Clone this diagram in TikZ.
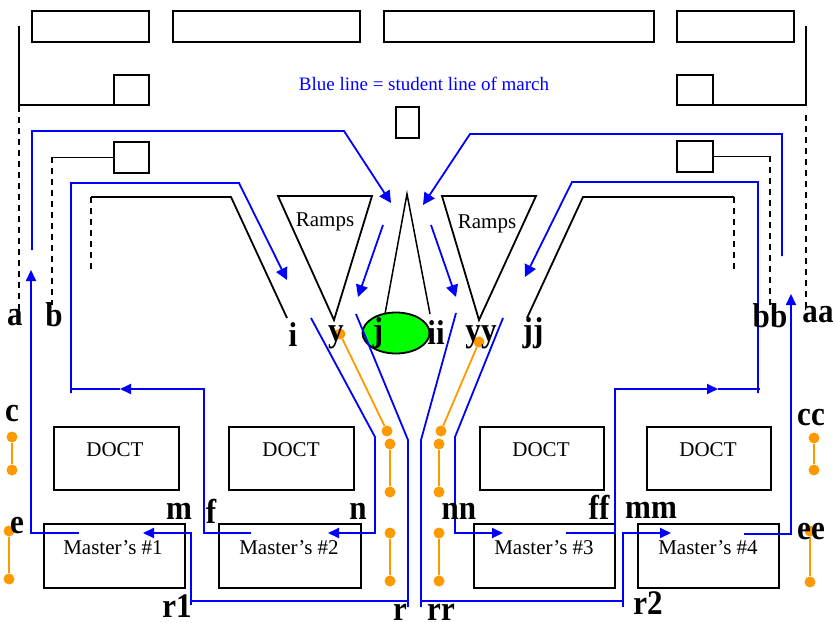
\documentclass[tikz,border=0pt]{standalone}
\usepackage{fontspec}
\setmainfont{Liberation Serif}
\newfontfamily\tagface[FakeStretch=0.9]{Liberation Serif}
\usetikzlibrary{arrows.meta,shapes.geometric}
\definecolor{mpblue}{HTML}{0000FF}
\definecolor{mporange}{HTML}{FF9900}
\definecolor{mpgreen}{HTML}{00FF00}
\tikzset{
  wall/.style={draw=black,line width=1.8pt},
  walldash/.style={draw=black,line width=1.6pt,dash pattern=on 6pt off 5pt},
  room/.style={draw=black,fill=white,line width=1.9pt,inner sep=0pt,anchor=north west},
  march/.style={draw=mpblue,line width=1.8pt},
  marcharrow/.style={march,-{Triangle[length=11pt,width=10pt]}},
  marchdiag/.style={march,-{Triangle[length=12pt,width=12pt]}},
  stop/.style={circle,fill=mporange,inner sep=0pt,minimum size=11pt},
  stopline/.style={draw=mporange,line width=1.8pt},
  tag/.style={font=\fontsize{34.5}{35}\tagface\bfseries,text=black,inner sep=0pt},
  caption/.style={font=\fontsize{21}{22}\selectfont,text=black,inner sep=0pt},
}
\begin{document}
\begin{tikzpicture}[x=1pt,y=-1pt]
  \useasboundingbox (0,0) rectangle (836,623);
  \node[room,minimum width=117pt,minimum height=31pt] (door1) at (31,10) {};
  \node[room,minimum width=187pt,minimum height=31pt] (door2) at (172,10) {};
  \node[room,minimum width=270pt,minimum height=31pt] (door3) at (383,10) {};
  \node[room,minimum width=117pt,minimum height=31pt] (door4) at (676,10) {};
  \draw[wall] (19,26)--(19,105)--(113,105);
  \draw[wall] (806,26)--(806,105)--(713,105);
  \node[room,minimum width=35pt,minimum height=30pt] (box1) at (113,74) {};
  \node[room,minimum width=36pt,minimum height=30pt] (box2) at (676,74) {};
  \node[room,minimum width=23pt,minimum height=31pt] (podium) at (395,106) {};
  \node[room,minimum width=35pt,minimum height=31pt] (box3) at (113,141) {};
  \node[room,minimum width=36pt,minimum height=31pt] (box4) at (676,140) {};
  \coordinate (dash3) at (52,157);
  \coordinate (dash4) at (770,156);
  \draw[walldash] (19,106)--(19,310);
  \draw[walldash] (806,115)--(806,310);
  \draw[wall] (box3.west)--(box3.west-|dash3);
  \draw[walldash] (dash3)--(52,305);
  \draw[wall] (box4.east)--(box4.east-|dash4);
  \draw[walldash] (dash4)--(770,305);
  \draw[walldash] (91,197)--(91,270);
  \draw[wall] (91,197)--(231,197)--(287,318);
  \draw[walldash] (734,197)--(734,270);
  \draw[wall] (734,197)--(583,197)--(527,318);
  \draw[wall] (278,196)--(372,196)--(334,320)--cycle;
  \draw[wall] (442,196)--(536,196)--(479,320)--cycle;
  \draw[wall,line width=1.5pt] (385,314)--(407,194)--(430,314);
  \node[draw=black,fill=mpgreen,line width=1.8pt,ellipse,minimum width=67pt,minimum height=41pt,inner sep=0pt] (stage) at (396,333) {};
  \node[caption] (ramp1) at (325,222) {Ramps};
  \node[caption] (ramp2) at (487,224) {Ramps};
  \node[room,minimum width=125pt,minimum height=63pt] (doct1) at (53,426) {};
  \node[room,minimum width=125pt,minimum height=63pt] (doct2) at (228,426) {};
  \node[room,minimum width=124pt,minimum height=63pt] (doct3) at (479,426) {};
  \node[room,minimum width=124pt,minimum height=63pt] (doct4) at (646,426) {};
  \node[room,minimum width=141pt,minimum height=64pt] (mast1) at (43,523) {};
  \node[room,minimum width=142pt,minimum height=64pt] (mast2) at (218,523) {};
  \node[room,minimum width=141pt,minimum height=64pt] (mast3) at (473,523) {};
  \node[room,minimum width=141pt,minimum height=64pt] (mast4) at (637,523) {};
  \node[caption] at (115,450) {DOCT};
  \node[caption] at (291,450) {DOCT};
  \node[caption] at (541,450) {DOCT};
  \node[caption] at (708,450) {DOCT};
  \node[caption] at (113,548) {Master’s \#1};
  \node[caption] at (289,548) {Master’s \#2};
  \node[caption] at (544,548) {Master’s \#3};
  \node[caption] at (708,548) {Master’s \#4};
  \node[caption,font=\fontsize{19}{20}\selectfont,text=mpblue] (legend) at (424,84) {Blue line = student line of march};
  \draw[marchdiag] (32,250)--(32,131)--(344,131)--(391,203);
  \draw[marchdiag] (71,393)--(71,183)--(239,183)--(287,280);
  \draw[marchdiag] (383,225)--(358,297);
  \draw[marchdiag] (431,225)--(456,297);
  \draw[marchdiag] (782,256)--(782,134)--(470,134)--(423,205);
  \draw[marchdiag] (758,393)--(758,182)--(572,182)--(525,277);
  \draw[marcharrow] (79,533)--(31,533)--(31,270);
  \draw[marcharrow] (744,534)--(791,534)--(791,294);
  \draw[marcharrow] (251,533)--(204,533)--(204,389)--(120,389);
  \draw[march] (120,389)--(71,389);
  \draw[marcharrow] (311,318)--(375,437)--(375,533)--(328,533);
  \draw[marcharrow] (191,605)--(191,533)--(143,533);
  \draw[march] (191,601)--(408,601);
  \draw[march] (356,314)--(408,440)--(408,607);
  \draw[march] (456,313)--(421,440)--(421,607);
  \draw[march] (421,601)--(623,601);
  \draw[marcharrow] (623,607)--(623,533)--(671,533);
  \draw[marcharrow] (503,318)--(455,437)--(455,533)--(503,533);
  \draw[marcharrow] (566,533)--(615,533)--(615,389)--(718,389);
  \draw[march] (718,389)--(760,389);
  \node[stop] (ys1) at (340,334) {};
  \node[stop] (ys2) at (387,431) {};
  \draw[stopline] (ys1)--(ys2);
  \node[stop] (yy1) at (479,342) {};
  \node[stop] (yy2) at (441,431) {};
  \draw[stopline] (yy1)--(yy2);
  \node[stop] (c1) at (12,437) {};
  \node[stop] (c2) at (12,470) {};
  \draw[stopline] (c1)--(c2);
  \node[stop] (e1) at (9,531) {};
  \node[stop] (e2) at (9,579) {};
  \draw[stopline] (e1)--(e2);
  \node[stop] (n1) at (390,444) {};
  \node[stop] (n2) at (390,492) {};
  \draw[stopline] (n1)--(n2);
  \node[stop] (r1a) at (390,533) {};
  \node[stop] (r1b) at (390,581) {};
  \draw[stopline] (r1a)--(r1b);
  \node[stop] (nn1) at (439,444) {};
  \node[stop] (nn2) at (439,492) {};
  \draw[stopline] (nn1)--(nn2);
  \node[stop] (rr1) at (439,533) {};
  \node[stop] (rr2) at (439,581) {};
  \draw[stopline] (rr1)--(rr2);
  \node[stop] (cc1) at (814,438) {};
  \node[stop] (cc2) at (814,470) {};
  \draw[stopline] (cc1)--(cc2);
  \node[stop] (ee1) at (810,531) {};
  \node[stop] (ee2) at (810,582) {};
  \draw[stopline] (ee1)--(ee2);
  \node[tag] at (15,318) {a};
  \node[tag] at (54,315) {b};
  \node[tag] at (293,335) {i};
  \node[tag] at (336,337) {y};
  \node[tag] at (378,333) {j};
  \node[tag] at (436,333) {ii};
  \node[tag] at (481,337) {yy};
  \node[tag] at (533,333) {jj};
  \node[tag] at (770,316) {bb};
  \node[tag] at (818,315) {aa};
  \node[tag] at (12,414) {c};
  \node[tag] at (811,418) {cc};
  \node[tag] at (17,526) {e};
  \node[tag] at (179,511) {m};
  \node[tag] at (211,511) {f};
  \node[tag] at (358,511) {n};
  \node[tag] at (459,511) {nn};
  \node[tag] at (599,507) {ff};
  \node[tag] at (651,510) {mm};
  \node[tag] at (811,532) {ee};
  \node[tag] at (177,606) {r1};
  \node[tag] at (400,612) {r};
  \node[tag] at (441,612) {rr};
  \node[tag] at (648,603) {r2};
\end{tikzpicture}
\end{document}
